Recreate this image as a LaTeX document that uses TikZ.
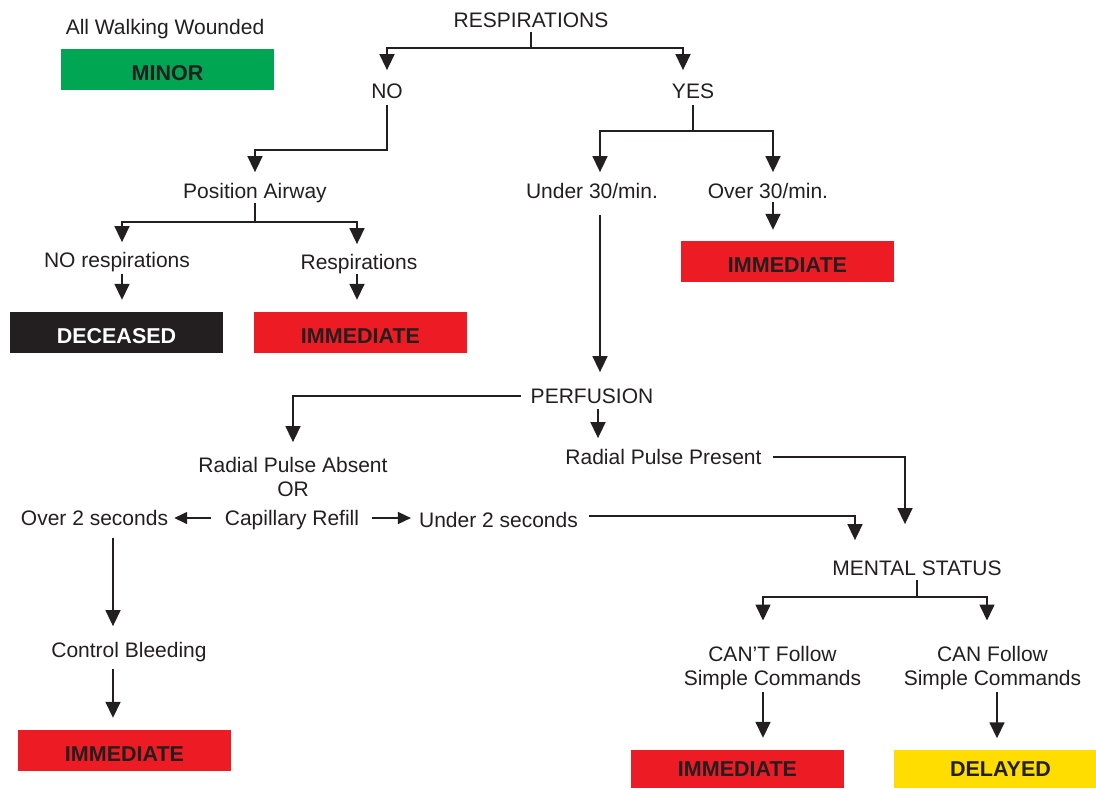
\documentclass[tikz,border=0pt]{standalone}
\usepackage{fontspec}
\setmainfont{Liberation Sans}
\usetikzlibrary{arrows.meta}
\definecolor{tred}{RGB}{237,28,36}
\definecolor{tgreen}{RGB}{0,166,81}
\definecolor{tblack}{RGB}{35,31,32}
\definecolor{tyellow}{RGB}{255,221,0}
\begin{document}
\begin{tikzpicture}[x=1pt,y=-1pt,
  txt/.style={inner sep=0pt,text height=15.4pt,text depth=0pt,text=tblack,font=\fontsize{21}{24}\selectfont},
  txt2/.style={inner sep=0pt,anchor=north,align=center,text=tblack,font=\fontsize{21}{24}\selectfont},
  tag/.style={inner sep=0pt,minimum width=213pt,minimum height=41pt,text height=21.4pt,text depth=0pt,font=\fontsize{21.5}{24}\selectfont\bfseries,text=tblack},
  lowtag/.style={tag,minimum height=38pt,text height=15.4pt},
  ln/.style={draw=tblack,line width=1.6pt},
  arr/.style={ln,-{Triangle[width=15pt,length=16pt]}},
  harr/.style={ln,-{Triangle[width=12pt,length=13pt]}}
]
\useasboundingbox (0,0) rectangle (1096,788);
\fill[white] (0,0) rectangle (1096,788);

% text nodes
\node[txt] (walk) at (165,27) {All Walking Wounded};
\node[txt] (resp) at (531,20) {RESPIRATIONS};
\node[txt] (no) at (387,91) {NO};
\node[txt] (yes) at (693,91) {YES};
\node[txt] (pa) at (255,191) {Position Airway};
\node[txt] (nor) at (117,260) {NO respirations};
\node[txt] (rsp) at (359,262) {Respirations};
\node[txt] (u30) at (592,191) {Under 30/min.};
\node[txt] (o30) at (768,191) {Over 30/min.};
\node[txt] (perf) at (592,396) {PERFUSION};
\node[txt] (rpa) at (293,465) {Radial Pulse Absent};
\node[txt] (or) at (293,489) {OR};
\node[txt] (cap) at (292,518) {Capillary Refill};
\node[txt] (o2) at (94.5,518) {Over 2 seconds};
\node[txt] (u2) at (498.5,520) {Under 2 seconds};
\node[txt] (rpp) at (663.5,457) {Radial Pulse Present};
\node[txt] (ms) at (917,568) {MENTAL STATUS};
\node[txt2] (cant) at (772.5,646.5) {CAN'T Follow\\Simple Commands};
\node[txt2] (can) at (992.5,646.5) {CAN Follow\\Simple Commands};
\node[txt] (cb) at (129,650) {Control Bleeding};

% category tags
\node[tag,fill=tgreen] (minor) at (167.5,69.5) {MINOR};
\node[tag,fill=tblack,text=white] (dec) at (116.5,332.5) {DECEASED};
\node[tag,fill=tred] (imm1) at (360.5,332.5) {IMMEDIATE};
\node[tag,fill=tred] (imm2) at (787.5,261.5) {IMMEDIATE};
\node[tag,fill=tred] (imm3) at (124.5,750.5) {IMMEDIATE};
\node[lowtag,fill=tred] (imm4) at (737.5,769) {IMMEDIATE};
\node[lowtag,fill=tyellow] (del) at (1000.5,768.5) {DELAYED};

% junctions
\coordinate (j1) at (531,48);
\coordinate (j2) at (387,150);
\coordinate (j3) at (255,222);
\coordinate (j4) at (693,131);
\coordinate (j5) at (917,597);

% connectors
\draw[arr,shorten <=4pt,shorten >=13pt] (resp.south) -- (j1) -| (no.north);
\draw[arr,shorten <=4pt,shorten >=13pt] (resp.south) -- (j1) -| ([xshift=-10pt]yes.north);
\draw[arr,shorten <=6pt,shorten >=11pt] (no.south) -- (j2) -| (pa.north);
\draw[arr,shorten <=4pt,shorten >=10pt] (pa.south) -- (j3) -| ([xshift=5pt]nor.north);
\draw[arr,shorten <=4pt,shorten >=10pt] (pa.south) -- (j3) -| ([xshift=-2pt]rsp.north);
\draw[arr,shorten <=6pt,shorten >=12pt] ([xshift=5pt]nor.south) -- ([xshift=5pt]nor.south |- dec.north);
\draw[arr,shorten <=4pt,shorten >=12pt] ([xshift=-2pt]rsp.south) -- ([xshift=-2pt]rsp.south |- imm1.north);
\draw[arr,shorten <=6pt,shorten >=11pt] (yes.south) -- (j4) -| ([xshift=8pt]u30.north);
\draw[arr,shorten <=6pt,shorten >=11pt] (yes.south) -- (j4) -| ([xshift=5pt]o30.north);
\draw[arr,shorten <=3pt,shorten >=11pt] ([xshift=5pt]o30.south) -- ([xshift=5pt]o30.south |- imm2.north);
\draw[arr,shorten <=16pt,shorten >=16pt] ([xshift=8pt]u30.south) -- ([xshift=8pt]u30.south |- perf.north);
\draw[arr,shorten <=10pt,shorten >=15pt] (perf.west) -| (rpa.north);
\draw[arr,shorten <=5pt,shorten >=11pt] ([xshift=6pt]perf.south) -- ([xshift=6pt]perf.south |- rpp.north);
\draw[arr,shorten <=11pt,shorten >=36pt] (rpp.east) -| ([xshift=-12pt]ms.north);
\draw[arr,shorten <=11pt,shorten >=20pt] ([yshift=4pt]u2.east) -| ([xshift=-62pt]ms.north);
\draw[harr,shorten <=14pt,shorten >=6pt] (cap.west) -- (o2.east);
\draw[harr,shorten <=13pt,shorten >=8pt] (cap.east) -- (cap.east -| u2.west);
\draw[arr,shorten <=12pt,shorten >=16pt] ([xshift=18.5pt]o2.south) -- ([xshift=18.5pt]o2.south |- cb.north);
\draw[arr,shorten <=11pt,shorten >=12pt] ([xshift=-16pt]cb.south) -- ([xshift=-16pt]cb.south |- imm3.north);
\draw[arr,shorten <=4pt,shorten >=26pt] (ms.south) -- (j5) -| ([xshift=-9.5pt]cant.north);
\draw[arr,shorten <=4pt,shorten >=26pt] (ms.south) -- (j5) -| ([xshift=-5.5pt]can.north);
\draw[arr,shorten <=2pt,shorten >=12pt] ([xshift=-9.5pt]cant.south) -- ([xshift=-9.5pt]cant.south |- imm4.north);
\draw[arr,shorten <=2pt,shorten >=11pt] ([xshift=4.5pt]can.south) -- ([xshift=4.5pt]can.south |- del.north);
\end{tikzpicture}
\end{document}
